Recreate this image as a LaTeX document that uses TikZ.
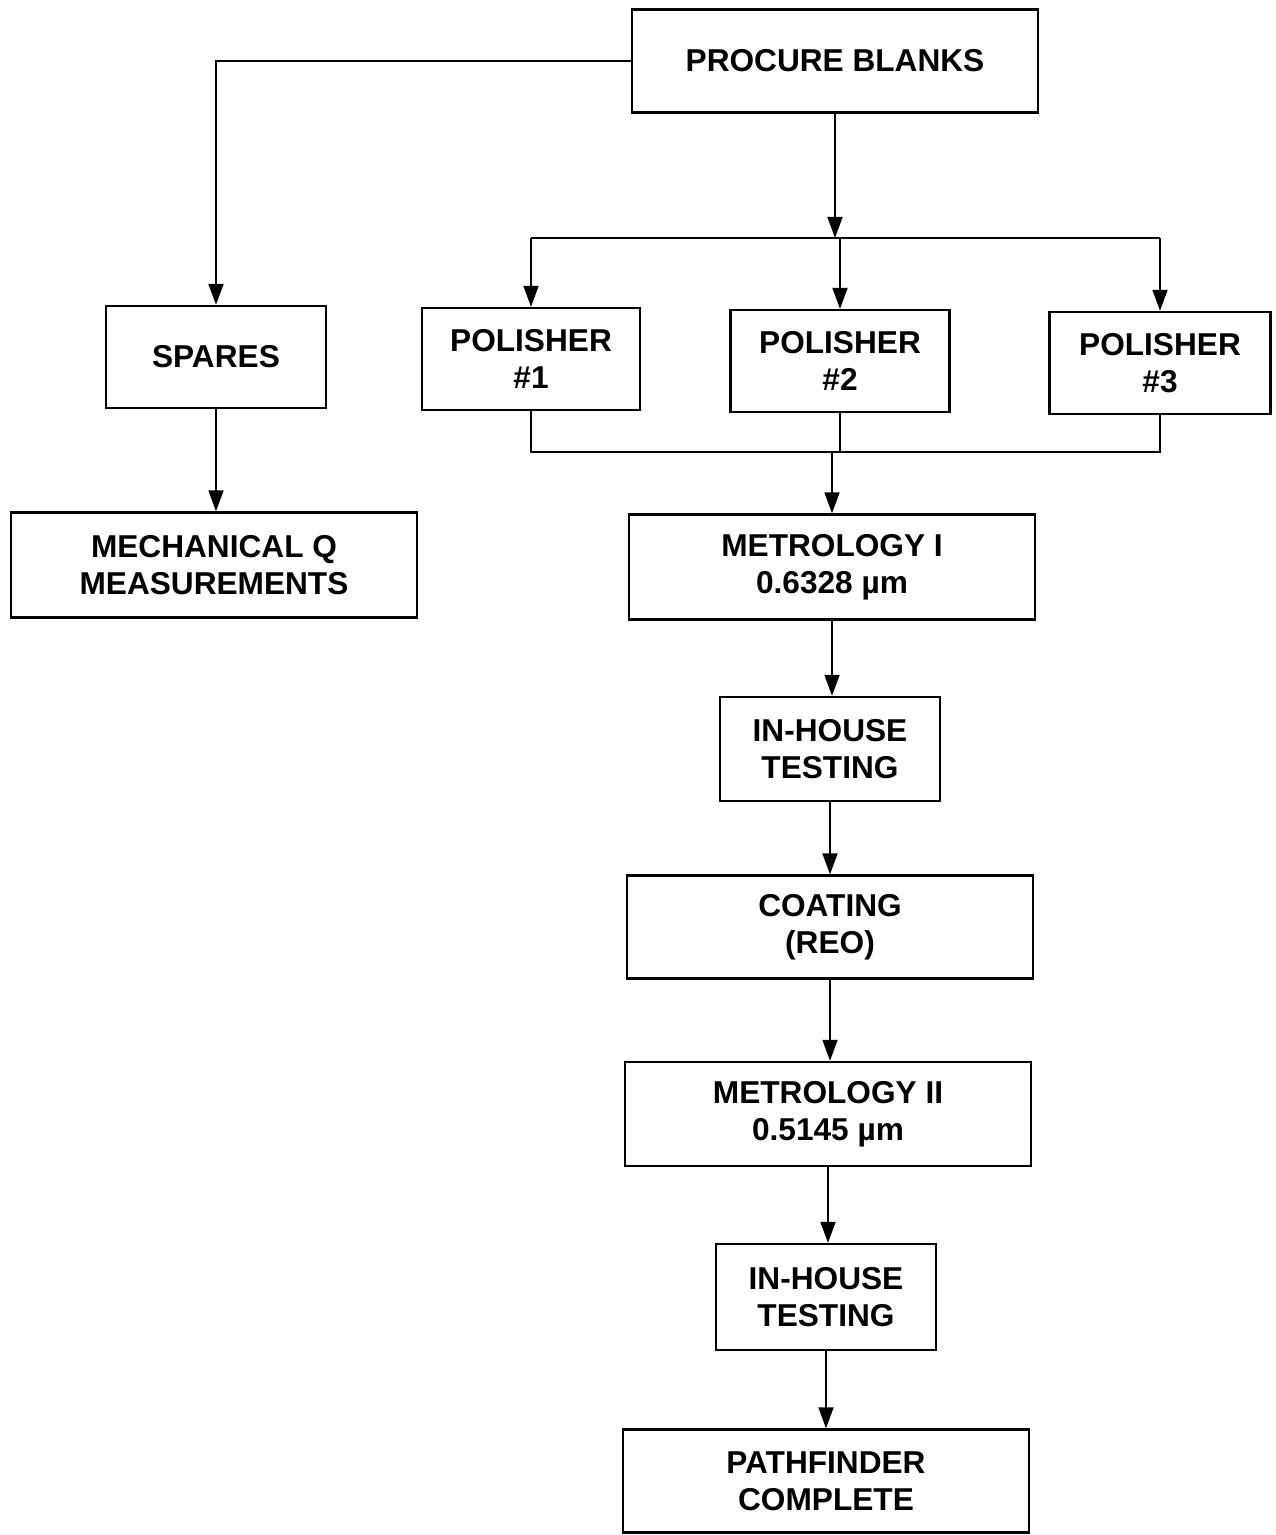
\documentclass[tikz,border=0pt]{standalone}
\usepackage{fontspec}
\setmainfont{Liberation Sans}
\usetikzlibrary{arrows.meta}

\begin{document}
\begin{tikzpicture}[x=0.02cm,y=-0.02cm,
	box/.style={draw,line width=1.3pt,align=center,inner sep=0pt,
		font=\bfseries\fontsize{18}{21}\selectfont},
	link/.style={line width=1.2pt},
	arr/.style={link,-{Triangle[length=12pt,width=8.5pt]}}]
	\useasboundingbox (0,0) rectangle (1275,1535);
	% boxes: name/centre x/centre y/width/height/text
	\foreach \n/\x/\y/\w/\h/\t in
	{procure/835/61/406/103/{PROCURE BLANKS},
	 spares/216/357/220/102/{SPARES},
	 pone/531/359/218/102/{POLISHER\\\#1},
	 ptwo/840/361/219/102/{POLISHER\\\#2},
	 pthree/1160/363/221/102/{POLISHER\\\#3},
	 mech/214/565/406/105/{MECHANICAL Q\\MEASUREMENTS},
	 metone/832/567/406/105/{METROLOGY I\\0.6328 µm},
	 testone/830/749/220/104/{IN-HOUSE\\TESTING},
	 coat/830/927/406/103/{COATING\\(REO)},
	 mettwo/828/1114/406/104/{METROLOGY II\\0.5145 µm},
	 testtwo/826/1297/220/106/{IN-HOUSE\\TESTING},
	 path/826/1481/406/103/{PATHFINDER\\COMPLETE}}{
		\node[box,minimum width=\w*0.02cm,minimum height=\h*0.02cm] (\n) at (\x,\y) {\t};
	}
	
	\coordinate (bus) at (835,238);
	\coordinate (join) at (832,452);
	
	\draw[arr] (procure.west) -| (spares.north);
	\draw[arr] (procure.south) -- (procure.south |- bus);
	\draw[link] (pone.north |- bus) -- (pthree.north |- bus);
	\foreach \p in {pone,ptwo,pthree}{
		\draw[arr] (\p.north |- bus) -- (\p.north);
	}
	
	\draw[link] (pone.south) |- (join) -| (pthree.south);
	\draw[link] (ptwo.south) -- (ptwo.south |- join);
	\draw[arr] (join) -- (metone.north);
	
	\foreach \a/\b in
	{spares/mech, metone/testone, testone/coat, coat/mettwo, mettwo/testtwo, testtwo/path}{
		\draw[arr] (\a.south) -- (\a.south |- \b.north);
	}
\end{tikzpicture}
\end{document}
